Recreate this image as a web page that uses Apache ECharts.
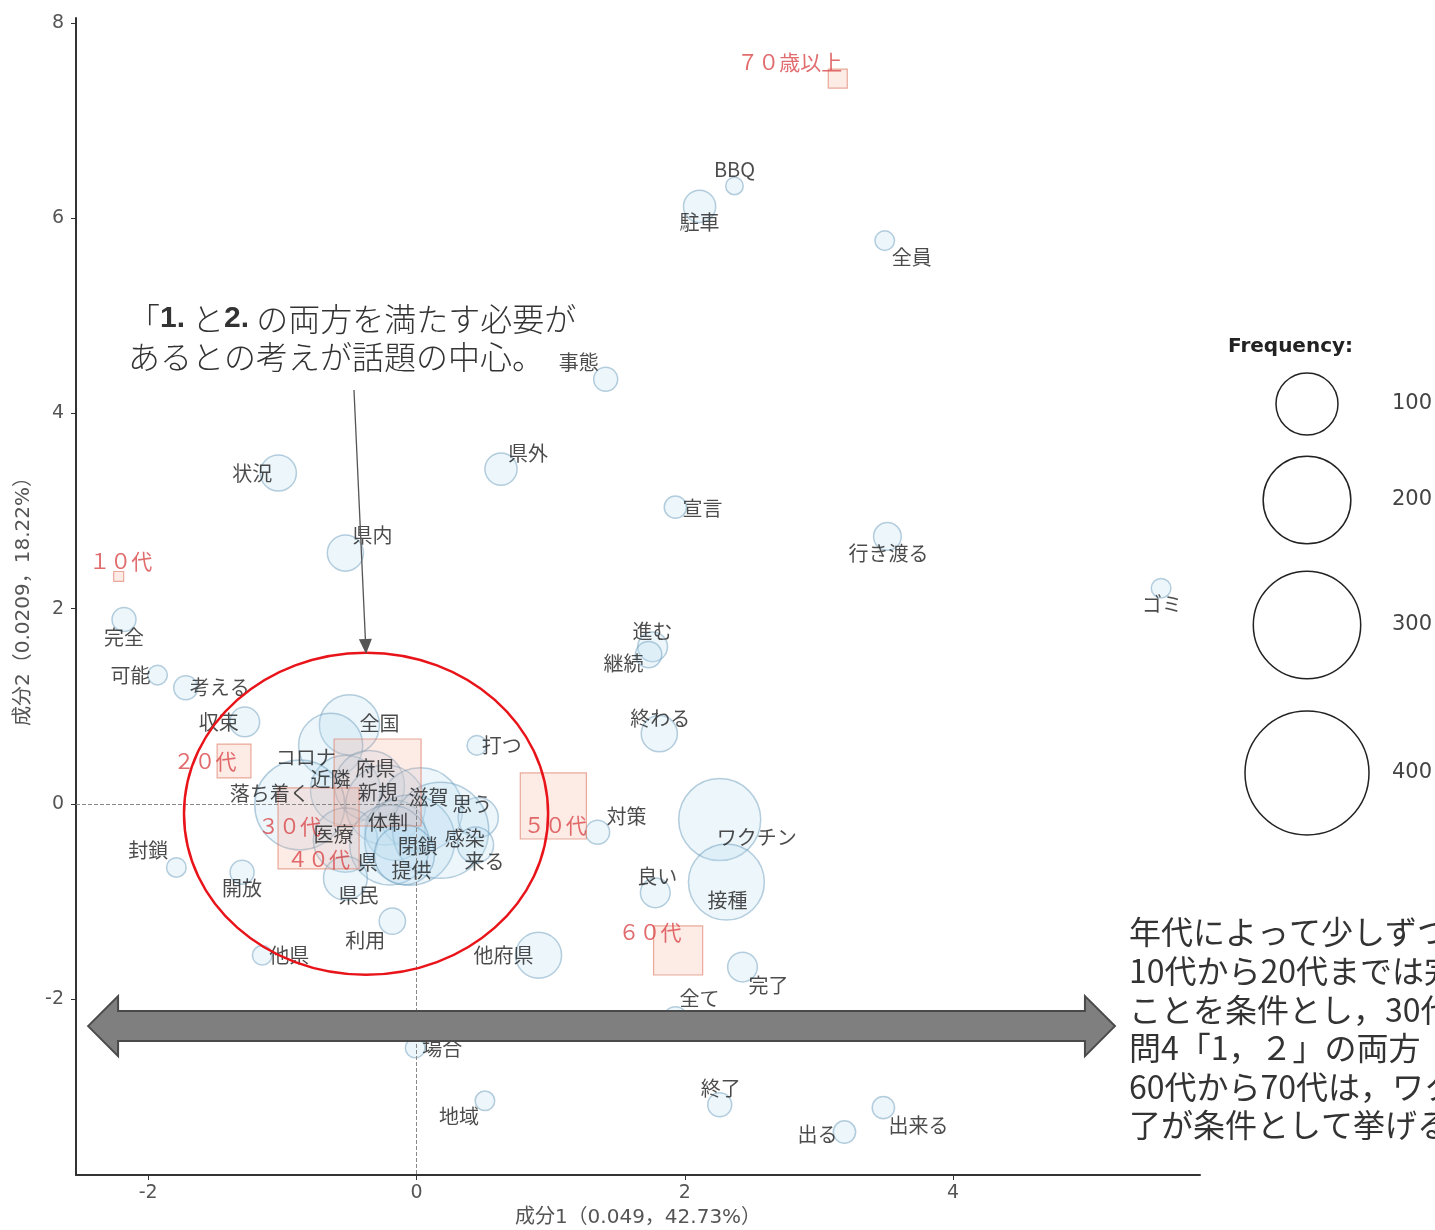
<!DOCTYPE html>
<html><head><meta charset="utf-8">
<script src="https://cdn.jsdelivr.net/npm/echarts@6/dist/echarts.min.js"></script>
<style>html,body{margin:0;padding:0;background:#fff;}#c{width:1435px;height:1230px;}</style>
</head><body><div id="c"></div>
<script>
// ---- data ----
const words = ['BBQ','駐車','全員','事態','県外','宣言','行き渡る','状況','県内','ゴミ','完全','可能','考える','収束','進む','継続','終わる','打つ','対策','ワクチン','接種','良い','完了','全て','他府県','他県','利用','開放','封鎖','場合','地域','終了','出る','出来る','全国','コロナ','近隣','府県','落ち着く','新規','滋賀','思う','体制','医療','閉鎖','感染','来る','県','提供','県民'];
const wordX = [2.37,2.11,3.49,1.41,0.63,1.93,3.51,-1.03,-0.53,5.55,-2.18,-1.93,-1.72,-1.28,1.76,1.73,1.81,0.45,1.35,2.26,2.31,1.78,2.43,1.93,0.91,-1.15,-0.18,-1.30,-1.79,-0.01,0.51,2.26,3.19,3.48,-0.50,-0.64,-0.53,-0.35,-0.87,-0.23,0.03,0.46,-0.16,-0.53,-0.05,0.18,0.44,-0.20,-0.09,-0.53];
const wordY = [6.33,6.12,5.77,4.35,3.43,3.04,2.74,3.39,2.57,2.21,1.89,1.32,1.19,0.84,1.61,1.53,0.72,0.60,-0.29,-0.16,-0.80,-0.91,-1.67,-2.20,-1.55,-1.55,-1.20,-0.70,-0.65,-2.50,-3.04,-3.08,-3.36,-3.11,0.81,0.60,0.14,0.19,-0.01,-0.01,-0.06,-0.14,-0.27,-0.37,-0.37,-0.27,-0.42,-0.42,-0.52,-0.76];
const wordFreq = [8,27,10,15,27,13,20,34,34,10,15,10,15,23,23,18,34,10,15,175,150,23,23,15,55,10,18,15,10,10,10,15,13,13,94,107,127,127,211,166,184,42,94,107,211,240,34,166,94,50];

const ageGroups = ['１０代','２０代','３０代','４０代','５０代','６０代','７０歳以上'];
const ageX = [-2.22,-1.36,-0.73,-0.29,1.02,1.95,3.14];
const ageY = [2.33,0.44,-0.25,0.22,-0.02,-1.50,7.43];
const ageFreq = [3.3,38,218,251,145,80,12];

const xTicks = [-2,0,2,4];
const yTicks = [-2,0,2,4,6,8];
const legendFreqs = [100,200,300,400];
const xName = '成分1（0.049，42.73%）';
const yName = '成分2（0.0209，18.22%）';

// ---- label layout (pixel offsets of text from its point) ----
const wordLabelOffset = [[0,-17],[0,16],[27,17],[-27,-17],[27,-16],[27,1],[1,17],[-26,0],[27,-18],[1,16],[0,18],[-27,0],[34,0],[-26,0],[0,-15],[-25,9],[1,-15],[25,0],[29,-16],[37,18],[1,18],[2,-16],[26,18],[24,-20],[-35,0],[27,0],[-27,19],[0,16],[-28,-17],[27,0],[-26,16],[1,-16],[-27,2],[35,18],[30,-1],[-25,12],[-15,-11],[6,-17],[-30,-12],[-8,-13],[8,-12],[-6,-13],[-7,-8],[-12,-6],[8,6],[24,8],[9,16],[-22,17],[7,16],[13,17]];
const ageLabelOffset = [[2,-15],[-29,0],[-29,-2],[-59,77],[2,19],[-28,-18],[-48,-17]];

// annotation anchors in data space
const ellipseCenter = [-0.376,-0.10], ellipseRadius = [1.357,1.65];
const calloutFrom = [-0.466,4.24], calloutTo = [-0.376,1.537];
const bigArrowFrom = [-2.448,-2.275], bigArrowTo = [5.206,-2.275];

const FONT = '"Noto Sans CJK JP","Noto Sans",sans-serif';
const AXFONT = '"DejaVu Sans","Noto Sans CJK JP",sans-serif';
const bubbleSize = f => 6.2*Math.sqrt(f);      // diameter
const squareSize = f => 5.49*Math.sqrt(f);     // side (area equal)

const chart = echarts.init(document.getElementById('c'), null, {renderer:'canvas'});

const bubbleData = words.map((w,i)=>({name:w, value:[wordX[i],wordY[i],wordFreq[i]]}));
const labelData = words.map((w,i)=>({name:w, value:[wordX[i],wordY[i],wordFreq[i]],
  label:{offset:wordLabelOffset[i]}}));
const ageData = ageGroups.map((g,i)=>({name:g, value:[ageX[i],ageY[i],ageFreq[i]],
  label:{offset:ageLabelOffset[i]}}));

const axisCommon = {
  type:'value', splitLine:{show:false},
  axisLine:{show:true,onZero:false,lineStyle:{color:'#333',width:2}},
  nameTextStyle:{color:'#555',fontSize:20,fontFamily:AXFONT},
};

const option = {
  animation:false,
  backgroundColor:'#fff',
  textStyle:{fontFamily:FONT},
  grid:{left:76,right:235,top:18,bottom:55,containLabel:false,outerBoundsMode:'none'},
  xAxis:Object.assign({}, axisCommon, {
    min:-2.538, max:5.84,
    axisTick:{show:true,customValues:xTicks,length:5,lineStyle:{color:'#333'}},
    axisLabel:{customValues:xTicks,color:'#555',fontSize:19,margin:9,fontFamily:AXFONT},
    name:xName, nameLocation:'middle', nameGap:31
  }),
  yAxis:Object.assign({}, axisCommon, {
    min:-3.80, max:8.05,
    axisTick:{show:true,customValues:yTicks,length:5,lineStyle:{color:'#333'}},
    axisLabel:{customValues:yTicks,color:'#555',fontSize:19,margin:12,fontFamily:AXFONT},
    name:yName, nameLocation:'middle', nameGap:40
  }),
  title:[
    {text:'「{b|1.} と{b|2.} の両方を満たす必要が\nあるとの考えが話題の中心。', left:128, top:300, padding:0,
     textStyle:{fontSize:32,fontWeight:300,color:'#333',lineHeight:38,fontFamily:FONT,
       rich:{b:{fontSize:30,fontWeight:'bold',color:'#333',fontFamily:'"Liberation Sans",sans-serif',lineHeight:38}}}},
    {text:'年代によって少しずつ\n10代から20代までは完\nことを条件とし，30代\n問4「1，２」の両方\n60代から70代は，ワク\n了が条件として挙げる',
     left:1129, top:913, padding:0,
     textStyle:{fontSize:32,fontWeight:'normal',color:'#333',lineHeight:38.6,fontFamily:FONT}},
    {text:'Frequency:', left:1228, top:337, padding:0,
     textStyle:{fontSize:20,fontWeight:'bold',color:'#222',fontFamily:'"DejaVu Sans",sans-serif'}}
  ],
  series:[
    {type:'scatter', name:'words', z:2, silent:true, data:bubbleData,
     symbolSize:v=>bubbleSize(v[2]),
     itemStyle:{color:'rgba(185,220,240,0.33)',borderColor:'rgba(105,155,185,0.6)',borderWidth:1.5},
     label:{show:false},
     markLine:{silent:true,symbol:'none',label:{show:false},
       lineStyle:{type:'dashed',color:'#888',width:1},
       data:[[{coord:[-2.538,0]},{coord:[0,0]}],[{coord:[0,0]},{coord:[0,-3.80]}]]}
    },
    {type:'scatter', name:'age', z:3, silent:true, data:ageData, symbol:'rect',
     symbolSize:v=>squareSize(v[2]),
     itemStyle:{color:'rgba(248,165,145,0.28)',borderColor:'rgba(222,125,105,0.8)',borderWidth:1.2},
     label:{show:true,formatter:'{b}',position:'inside',color:'#d9474a',fontSize:21,fontFamily:FONT}
    },
    {type:'scatter', name:'wordLabels', z:4, silent:true, data:labelData, symbolSize:1,
     itemStyle:{color:'rgba(0,0,0,0)'},
     label:{show:true,formatter:'{b}',position:'inside',color:'#1e1e1e',fontSize:20,fontFamily:FONT}
    }
  ]
};
chart.setOption(option);

// ---- annotations & size legend ----
const P = d => chart.convertToPixel({gridIndex:0}, d);
const g = [];
const ec = P(ellipseCenter), er = P([ellipseCenter[0]+ellipseRadius[0], ellipseCenter[1]+ellipseRadius[1]]);
g.push({type:'ellipse', z:100, shape:{cx:ec[0],cy:ec[1],rx:er[0]-ec[0],ry:ec[1]-er[1]},
  style:{fill:'none',stroke:'#e8141a',lineWidth:2.5}});
// callout arrow
const a0 = P(calloutFrom), a1 = P(calloutTo);
{
  const dx=a1[0]-a0[0], dy=a1[1]-a0[1], L=Math.hypot(dx,dy), ux=dx/L, uy=dy/L, px=-uy, py=ux;
  const hl=15, hw=6.5;
  const bx=a1[0]-ux*hl, by=a1[1]-uy*hl;
  g.push({type:'line', z:100, shape:{x1:a0[0],y1:a0[1],x2:bx,y2:by}, style:{stroke:'#555',lineWidth:1.3}});
  g.push({type:'polygon', z:100, shape:{points:[[a1[0],a1[1]],[bx+px*hw,by+py*hw],[bx-px*hw,by-py*hw]]}, style:{fill:'#555'}});
}
// big double arrow
const b0 = P(bigArrowFrom), b1 = P(bigArrowTo);
{
  const y=b0[1], sh=15, hh=30, hl=30, L=b0[0], R=b1[0];
  g.push({type:'polygon', z:100, shape:{points:[[L,y],[L+hl,y-hh],[L+hl,y-sh],[R-hl,y-sh],[R-hl,y-hh],[R,y],[R-hl,y+hh],[R-hl,y+sh],[L+hl,y+sh],[L+hl,y+hh]]},
    style:{fill:'#7f7f7f',stroke:'#4a4a4a',lineWidth:2}});
}
// size legend
const legendY = [404,500,625,773];
legendFreqs.forEach((f,i)=>{
  g.push({type:'circle', z:100, shape:{cx:1307,cy:legendY[i],r:bubbleSize(f)/2},
    style:{fill:'none',stroke:'#222',lineWidth:1.5}});
  g.push({type:'text', z:100, style:{x:1392,y:legendY[i],text:String(f),fill:'#444',fontSize:21,
    fontFamily:'"DejaVu Sans",sans-serif',align:'left',verticalAlign:'middle'}});
});
chart.setOption({graphic:g});
</script>
</body></html>
